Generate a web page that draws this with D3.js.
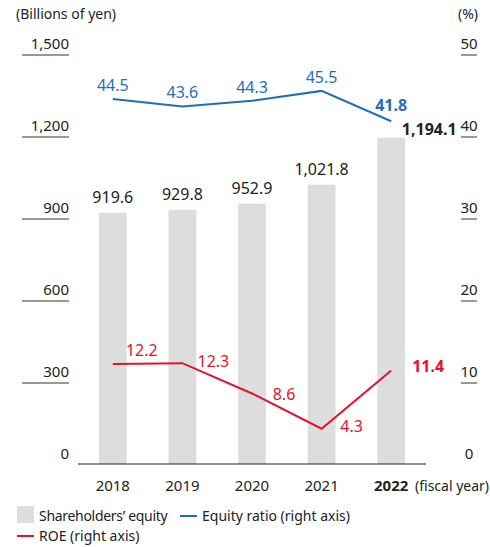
<!DOCTYPE html>
<html>
<head>
<meta charset="utf-8">
<script src="https://cdn.jsdelivr.net/npm/d3@7"></script>
<style>
  body { margin: 0; background: #fff; }
  svg text { font-family: "Noto Sans", "Open Sans", sans-serif; }
</style>
</head>
<body>
<div id="chart"></div>
<script>
// data
const years = ["2018", "2019", "2020", "2021", "2022"];
const equity = [919.6, 929.8, 952.9, 1021.8, 1194.1];
const equityRatio = [44.5, 43.6, 44.3, 45.5, 41.8];
const roe = [12.2, 12.3, 8.6, 4.3, 11.4];
const leftTicks = [0, 300, 600, 900, 1200, 1500];
const rightTicks = [0, 10, 20, 30, 40, 50];

const width = 490, height = 547;
const blue = "#1f6fb8", red = "#e8112d", grey = "#dcdddd";

const svg = d3.select("#chart")
  .append("svg")
  .attr("width", width)
  .attr("height", height);

// scales
const x = d3.scaleBand()
  .domain(years)
  .range([78, 426])
  .paddingInner(0.6)
  .paddingOuter(0.3);

const yL = d3.scaleLinear().domain([0, 1500]).range([464, 54]);
const yR = d3.scaleLinear().domain([0, 50]).range([464, 54]);
const cx = (d) => x(d) + x.bandwidth() / 2;
const last = years.length - 1;

// bars
svg.selectAll(".bar")
  .data(years)
  .enter()
  .append("rect")
    .attr("class", "bar")
    .attr("x", (d) => x(d))
    .attr("width", x.bandwidth())
    .attr("y", (d, i) => yL(equity[i]))
    .attr("height", (d, i) => yL(0) - yL(equity[i]))
    .attr("fill", grey);

// baseline
svg.append("line")
  .attr("x1", 78).attr("x2", 426)
  .attr("y1", yL(0)).attr("y2", yL(0))
  .attr("stroke", "#222").attr("stroke-width", 1.2);

// left axis ticks (label with underline)
const lt = svg.append("g").selectAll("g").data(leftTicks).enter().append("g");
lt.filter((d) => d > 0).append("line")
  .attr("x1", 22).attr("x2", 69)
  .attr("y1", (d) => yL(d) + 1).attr("y2", (d) => yL(d) + 1)
  .attr("stroke", "#333").attr("stroke-width", 1);
lt.append("text")
  .attr("x", 69)
  .attr("y", (d) => yL(d) - 5)
  .attr("text-anchor", "end")
  .attr("font-size", "15px")
  .attr("fill", "#222")
  .text((d) => d3.format(",")(d));

// right axis ticks
const rt = svg.append("g").selectAll("g").data(rightTicks).enter().append("g");
rt.filter((d) => d > 0).append("line")
  .attr("x1", 461).attr("x2", 477)
  .attr("y1", (d) => yR(d) + 1).attr("y2", (d) => yR(d) + 1)
  .attr("stroke", "#333").attr("stroke-width", 1);
rt.append("text")
  .attr("x", 469)
  .attr("y", (d) => yR(d) - 5)
  .attr("text-anchor", "middle")
  .attr("font-size", "15px")
  .attr("fill", "#222")
  .text((d) => d);

// axis titles
svg.append("text").attr("x", 16).attr("y", 19)
  .attr("font-size", "14px").attr("fill", "#222").text("(Billions of yen)");
svg.append("text").attr("x", 478).attr("y", 19).attr("text-anchor", "end")
  .attr("font-size", "14px").attr("fill", "#222").text("(%)");

// year labels
svg.selectAll(".year")
  .data(years)
  .enter()
  .append("text")
    .attr("class", "year")
    .attr("x", cx)
    .attr("y", 491)
    .attr("text-anchor", "middle")
    .attr("font-size", "15px")
    .attr("font-weight", (d, i) => i === last ? "bold" : "normal")
    .attr("fill", "#222")
    .text((d) => d);
svg.append("text").attr("x", 415).attr("y", 491)
  .attr("font-size", "14px").attr("fill", "#222").text("(fiscal year)");

// bar value labels
svg.selectAll(".eqlab")
  .data(years)
  .enter()
  .append("text")
    .attr("class", "eqlab")
    .attr("x", (d, i) => i === last ? cx(d) + 38 : cx(d))
    .attr("y", (d, i) => i === last ? yL(equity[i]) - 3 : yL(equity[i]) - 10)
    .attr("text-anchor", "middle")
    .attr("font-size", "16px")
    .attr("font-weight", (d, i) => i === last ? "bold" : "normal")
    .attr("fill", "#222")
    .text((d, i) => d3.format(",.1f")(equity[i]));

// equity ratio line
svg.append("path")
  .datum(equityRatio)
  .attr("fill", "none")
  .attr("stroke", blue)
  .attr("stroke-width", 2)
  .attr("d", d3.line().x((d, i) => cx(years[i])).y((d) => yR(d)));

svg.selectAll(".erlab")
  .data(equityRatio)
  .enter()
  .append("text")
    .attr("class", "erlab")
    .attr("x", (d, i) => cx(years[i]))
    .attr("y", (d, i) => i === last ? yR(d) - 10 : yR(d) - 8)
    .attr("text-anchor", "middle")
    .attr("font-size", "16px")
    .attr("font-weight", (d, i) => i === last ? "bold" : "normal")
    .attr("fill", blue)
    .text((d) => d.toFixed(1));

// ROE line
svg.append("path")
  .datum(roe)
  .attr("fill", "none")
  .attr("stroke", red)
  .attr("stroke-width", 2)
  .attr("d", d3.line().x((d, i) => cx(years[i])).y((d) => yR(d)));

const roeDx = [29, 31, 32, 30, 37];
const roeDy = [-8, 4, 6.5, 3, 1.5];
svg.selectAll(".roelab")
  .data(roe)
  .enter()
  .append("text")
    .attr("class", "roelab")
    .attr("x", (d, i) => cx(years[i]) + roeDx[i])
    .attr("y", (d, i) => yR(d) + roeDy[i])
    .attr("text-anchor", "middle")
    .attr("font-size", "16px")
    .attr("font-weight", (d, i) => i === last ? "bold" : "normal")
    .attr("fill", red)
    .text((d) => d.toFixed(1));

// legend
const legend = svg.append("g");
legend.append("rect").attr("x", 17).attr("y", 506).attr("width", 17).attr("height", 17).attr("fill", grey);
legend.append("text").attr("x", 39).attr("y", 521).attr("font-size", "14px").attr("fill", "#222")
  .attr("letter-spacing", "-0.3px")
  .text("Shareholders\u2019 equity");
legend.append("line").attr("x1", 180).attr("x2", 197).attr("y1", 516).attr("y2", 516)
  .attr("stroke", blue).attr("stroke-width", 2);
legend.append("text").attr("x", 202).attr("y", 521).attr("font-size", "14px").attr("fill", "#222")
  .text("Equity ratio (right axis)");
legend.append("line").attr("x1", 17).attr("x2", 34).attr("y1", 536).attr("y2", 536)
  .attr("stroke", red).attr("stroke-width", 2);
legend.append("text").attr("x", 39).attr("y", 541).attr("font-size", "14px").attr("fill", "#222")
  .text("ROE (right axis)");
</script>
</body>
</html>
